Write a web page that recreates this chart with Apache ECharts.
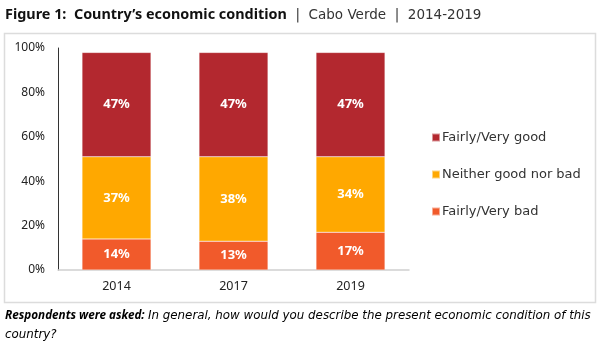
<!DOCTYPE html>
<html>
<head>
<meta charset="utf-8">
<script src="https://cdn.jsdelivr.net/npm/echarts@6/dist/echarts.min.js"></script>
<style>
  html, body { margin: 0; padding: 0; background: #fff; }
  #chart { width: 613px; height: 347px; }
</style>
</head>
<body>
<div id="chart"></div>
<script>
// Survey years and share of respondents per answer (percent)
const years = ['2014', '2017', '2019'];
const fairlyVeryBad = [14, 13, 17];
const neither = [37, 38, 34];
const fairlyVeryGood = [47, 47, 47];
const yTicks = [0, 20, 40, 60, 80, 100];

const NOTO = '"Noto Sans", "DejaVu Sans", sans-serif';
const WIDE = '"DejaVu Sans", "Noto Sans", sans-serif';

const labelStyle = {
  show: true,
  position: 'inside',
  color: '#fff',
  fontWeight: 'bold',
  fontSize: 13,
  fontFamily: NOTO,
  formatter: p => p.value + '%'
};

function barSeries(name, data, color) {
  return {
    name, type: 'bar', stack: 'total', data,
    barWidth: 69,
    itemStyle: { color, borderColor: 'rgba(255,255,255,0.5)', borderWidth: 0.5 },
    label: labelStyle
  };
}

const chart = echarts.init(document.getElementById('chart'), null, { renderer: 'canvas' });
chart.setOption({
  animation: false,
  textStyle: { fontFamily: NOTO },
  title: {
    left: 5, top: 8, padding: 0,
    text: '{b|Figure 1:  Country\u2019s economic condition}{n|  |  Cabo Verde  |  2014-2019}',
    textStyle: {
      rich: {
        b: { fontWeight: 'bold', fontSize: 14.4, color: '#111', fontFamily: NOTO },
        n: { fontWeight: 'normal', fontSize: 13.5, color: '#333', fontFamily: WIDE }
      }
    }
  },
  graphic: [
    { type: 'rect', shape: { x: 4.5, y: 33.5, width: 591, height: 269 },
      style: { fill: 'none', stroke: '#dcdcdc', lineWidth: 1.5 }, z: -1 },
    { type: 'text', left: 5, top: 310,
      style: {
        text: '{b|Respondents were asked:} {i|In general, how would you describe the present economic condition of this}\n{i|country?}',
        rich: {
          b: { fontWeight: 'bold', fontStyle: 'italic', fontSize: 11.7, color: '#111', fontFamily: NOTO, lineHeight: 19 },
          i: { fontStyle: 'italic', fontSize: 11.85, color: '#222', fontFamily: WIDE, lineHeight: 19 }
        }
      }
    }
  ],
  legend: {
    orient: 'vertical',
    left: 426, top: 126,
    itemGap: 24,
    itemWidth: 8, itemHeight: 8,
    icon: 'rect',
    data: ['Fairly/Very good', 'Neither good nor bad', 'Fairly/Very bad'],
    textStyle: { fontSize: 13, color: '#333', fontFamily: WIDE, padding: [0, 0, 0, -3] }
  },
  grid: { left: 58, top: 48, width: 351, height: 222, containLabel: false },
  xAxis: {
    type: 'category', data: years,
    axisLine: { lineStyle: { color: '#d0d0d0', width: 1.5 } },
    axisTick: { show: false },
    axisLabel: { color: '#222', fontSize: 12.5, margin: 10, fontFamily: NOTO }
  },
  yAxis: {
    type: 'value', min: yTicks[0], max: yTicks[yTicks.length - 1], interval: 20,
    axisLine: { show: true, lineStyle: { color: '#333', width: 1 } },
    axisTick: { show: false },
    splitLine: { show: false },
    axisLabel: { color: '#222', fontSize: 12, margin: 13, fontFamily: NOTO, formatter: v => v + '%' }
  },
  series: [
    barSeries('Fairly/Very bad', fairlyVeryBad, '#F15A2B'),
    barSeries('Neither good nor bad', neither, '#FFA800'),
    barSeries('Fairly/Very good', fairlyVeryGood, '#B3282F')
  ]
});
</script>
</body>
</html>
